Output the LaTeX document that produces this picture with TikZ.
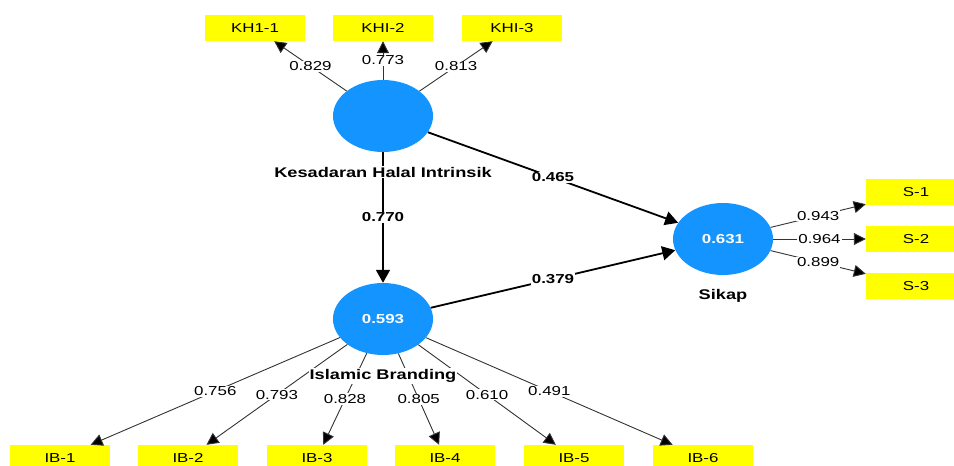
\documentclass[tikz,border=0pt]{standalone}
\usepackage{fontspec}
\setmainfont{Liberation Sans}[FakeStretch=1.3]
\usetikzlibrary{arrows.meta,shapes.geometric}
\definecolor{lvblue}{RGB}{20,148,255}
\definecolor{indyellow}{RGB}{255,255,0}

\begin{document}
\begin{tikzpicture}[x=1pt,y=-1pt,
    lv/.style={ellipse, fill=lvblue, minimum width=100pt, minimum height=72pt, inner sep=0pt, text=white, font=\bfseries\fontsize{13}{15}\selectfont},
    ind/.style={rectangle, fill=indyellow, minimum width=100pt, minimum height=26pt, inner sep=0pt, font=\fontsize{13}{15}\selectfont},
    lvname/.style={fill=white, inner sep=1pt, font=\bfseries\fontsize{14}{16}\selectfont},
    loading/.style={draw=black!80, line width=0.9pt, -{Triangle[length=12pt,width=12pt,fill=black]}},
    structural/.style={draw=black, line width=1.8pt, -{Triangle[length=13pt,width=14pt]}},
    coef/.style={midway, fill=white, inner sep=1pt, font=\fontsize{13}{15}\selectfont},
    bcoef/.style={coef, font=\bfseries\fontsize{13}{15}\selectfont}]

    \useasboundingbox (0,0) rectangle (954,466);
    \clip (0,0) rectangle (954,466);

    % Variabel laten
    \node[lv] (khi)   at (383,116) {};
    \node[lv] (ib)    at (383,319) {0.593};
    \node[lv] (sikap) at (723,239) {0.631};

    % Indikator (kotak kuning)
    \node[ind] (kh1) at (255,28) {KH1-1};
    \node[ind] (kh2) at (383,28) {KHI-2};
    \node[ind] (kh3) at (512,28) {KHI-3};

    \node[ind] (s1) at (916,192) {S-1};
    \node[ind] (s2) at (916,239) {S-2};
    \node[ind] (s3) at (916,286) {S-3};

    \node[ind] (ib1) at ( 60,458) {IB-1};
    \node[ind] (ib2) at (188,458) {IB-2};
    \node[ind] (ib3) at (317,458) {IB-3};
    \node[ind] (ib4) at (445,458) {IB-4};
    \node[ind] (ib5) at (574,458) {IB-5};
    \node[ind] (ib6) at (703,458) {IB-6};

    % Outer loadings
    \draw[loading] (khi) -- (kh1) node[coef] {0.829};
    \draw[loading] (khi) -- (kh2) node[coef] {0.773};
    \draw[loading] (khi) -- (kh3) node[coef] {0.813};

    \draw[loading] (sikap) -- (s1) node[coef] {0.943};
    \draw[loading] (sikap) -- (s2) node[coef] {0.964};
    \draw[loading] (sikap) -- (s3) node[coef] {0.899};

    \draw[loading] (ib) -- (ib1) node[coef] {0.756};
    \draw[loading] (ib) -- (ib2) node[coef] {0.793};
    \draw[loading] (ib) -- (ib3) node[coef] {0.828};
    \draw[loading] (ib) -- (ib4) node[coef] {0.805};
    \draw[loading] (ib) -- (ib5) node[coef] {0.610};
    \draw[loading] (ib) -- (ib6) node[coef] {0.491};

    % Path coefficients
    \draw[structural] (khi) -- (sikap) node[bcoef] {0.465};
    \draw[structural] (khi) -- (ib)    node[bcoef] {0.770};
    \draw[structural] (ib)  -- (sikap) node[bcoef] {0.379};

    % Nama variabel
    \node[lvname] (khiname)   at (383,172) {Kesadaran Halal Intrinsik};
    \node[lvname] (ibname)    at (383,376) {Islamic Branding};
    \node[lvname] (sikapname) at (723,296) {Sikap};
\end{tikzpicture}
\end{document}
